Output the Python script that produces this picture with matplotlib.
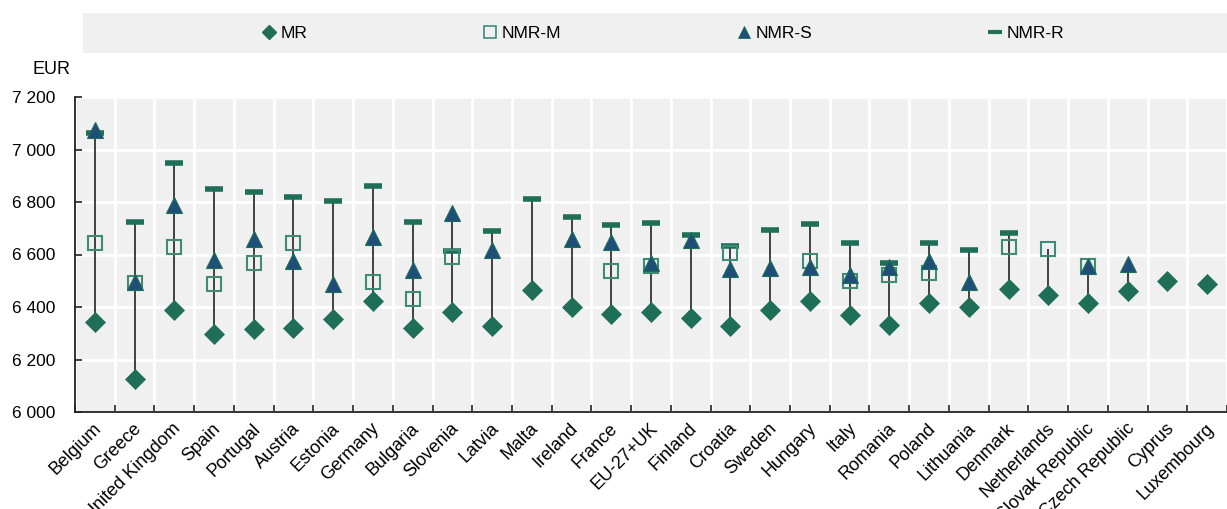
import matplotlib
matplotlib.use('Agg')
import matplotlib.pyplot as plt
from matplotlib.transforms import offset_copy
from matplotlib.ticker import FuncFormatter, FixedLocator
from matplotlib.lines import Line2D
from matplotlib.patches import Rectangle
import numpy as np

countries = ['Belgium', 'Greece', 'United Kingdom', 'Spain', 'Portugal', 'Austria',
             'Estonia', 'Germany', 'Bulgaria', 'Slovenia', 'Latvia', 'Malta', 'Ireland',
             'France', 'EU-27+UK', 'Finland', 'Croatia', 'Sweden', 'Hungary', 'Italy',
             'Romania', 'Poland', 'Lithuania', 'Denmark', 'Netherlands',
             'Slovak Republic', 'Czech Republic', 'Cyprus', 'Luxembourg']

nan = np.nan
# MR (diamond)
mr = [6344, 6125, 6389, 6297, 6315, 6319, 6354, 6424, 6319, 6380, 6329, 6465, 6401,
      6372, 6380, 6359, 6328, 6389, 6424, 6368, 6331, 6414, 6401, 6470, 6445,
      6414, 6462, 6499, 6488]
# NMR-M (hollow square)
nmr_m = [6643, 6493, 6630, 6488, 6566, 6645, nan, 6496, 6430, 6592, nan, nan, nan,
         6537, 6556, nan, 6605, nan, 6577, 6499, 6522, 6531, nan, 6627, 6621,
         6556, nan, nan, nan]
# NMR-S (triangle)
nmr_s = [7074, 6496, 6789, 6579, 6658, 6575, 6488, 6668, 6541, 6759, 6617, nan, 6658,
         6649, 6569, 6655, 6544, 6550, 6554, 6522, 6551, 6575, 6496, nan, nan,
         6556, 6563, nan, nan]
# NMR-R (dash)
nmr_r = [7062, 6723, 6950, 6850, 6837, 6820, 6805, 6861, 6724, 6613, 6691, 6810, 6742,
         6712, 6719, 6674, 6634, 6693, 6716, 6643, 6568, 6643, 6618, 6683, nan,
         nan, nan, nan, nan]

green = '#1e6e58'
blue = '#1f4e79'
sq_edge = '#3f8c74'
bg = '#f0f0f0'

plt.rcParams['font.family'] = ['Liberation Sans Narrow', 'Liberation Sans', 'DejaVu Sans']

fig = plt.figure(figsize=(12.27, 5.09), dpi=100)
ax = fig.add_axes([75 / 1227, 1 - 412 / 509, 1 - 75 / 1227, (412 - 97) / 509])
ax.set_facecolor(bg)

x = np.arange(len(countries))
allv = np.array([mr, nmr_m, nmr_s, nmr_r], dtype=float)
lo = np.nanmin(allv, axis=0)
hi = np.nanmax(allv, axis=0)
ax.vlines(x, lo, hi, color='#333333', lw=1.3, zorder=3)

ax.plot(x, nmr_r, ls='none', marker='_', ms=13, mew=4, color=green, zorder=4)
ax.plot(x, nmr_m, ls='none', marker='s', ms=10, mfc='none', mec=sq_edge, mew=1.5, zorder=5)
ax.plot(x, nmr_s, ls='none', marker='^', ms=11, mfc=blue, mec=green, mew=0.8, zorder=6)
ax.plot(x, mr, ls='none', marker='D', ms=10, mfc=green, mec=green, mew=0.5, zorder=7)

ax.set_xlim(-0.5, len(countries) - 0.5)
ax.set_ylim(6000, 7200)
ax.set_yticks(np.arange(6000, 7201, 200))
ax.yaxis.set_major_formatter(FuncFormatter(lambda v, p: '{:,.0f}'.format(v).replace(',', ' ')))

# category labels, rotated, slightly right of the category centre
ax.set_xticks(x)
ax.set_xticklabels([])
lab_tr = offset_copy(ax.get_xaxis_transform(), fig=fig, x=4, y=-14, units='dots')
for i, name in enumerate(countries):
    ax.text(i, 0, name, transform=lab_tr, rotation=45, ha='right', va='center',
            rotation_mode='anchor', fontsize=13, clip_on=False)

ax.xaxis.set_minor_locator(FixedLocator(np.arange(-0.5, len(countries), 1)))
ax.tick_params(axis='x', which='major', length=0)
ax.tick_params(axis='x', which='minor', length=5, direction='in', color='#222222', width=1.2)
ax.tick_params(axis='y', length=5, direction='in', color='#222222', width=1.2,
               labelsize=12.5, pad=14)

ax.grid(True, which='minor', axis='x', color='white', lw=2)
ax.grid(True, which='major', axis='y', color='white', lw=2)
ax.set_axisbelow(True)

for s in ['top', 'right']:
    ax.spines[s].set_visible(False)
for s in ['left', 'bottom']:
    ax.spines[s].set_color('#222222')
    ax.spines[s].set_linewidth(1.3)

fig.text(33 / 1227, 1 - 70 / 509, 'EUR', fontsize=13, ha='left', va='center')

# legend band
fig.patches.append(Rectangle((83 / 1227, 1 - 53 / 509), 1 - 83 / 1227, 40 / 509,
                             transform=fig.transFigure, facecolor=bg, edgecolor='none', zorder=0))
handles = [
    Line2D([], [], ls='none', marker='D', ms=7, color=green),
    Line2D([], [], ls='none', marker='s', ms=8, mfc='none', mec=sq_edge, mew=1.2),
    Line2D([], [], ls='none', marker='^', ms=9, mfc=blue, mec=green, mew=0.6),
    Line2D([], [], ls='none', marker='_', ms=10, mew=3, color=green),
]
labels = ['MR', 'NMR-M', 'NMR-S', 'NMR-R']
leg_x = [262, 483, 737, 988]
for h, lab, lx in zip(handles, labels, leg_x):
    fig.legend([h], [lab], loc='center left', bbox_to_anchor=(lx / 1227, 1 - 33 / 509),
               frameon=False, fontsize=12.5, handlelength=0.8, handletextpad=0.3,
               borderpad=0, borderaxespad=0)

fig.savefig('out.png', dpi=100)
